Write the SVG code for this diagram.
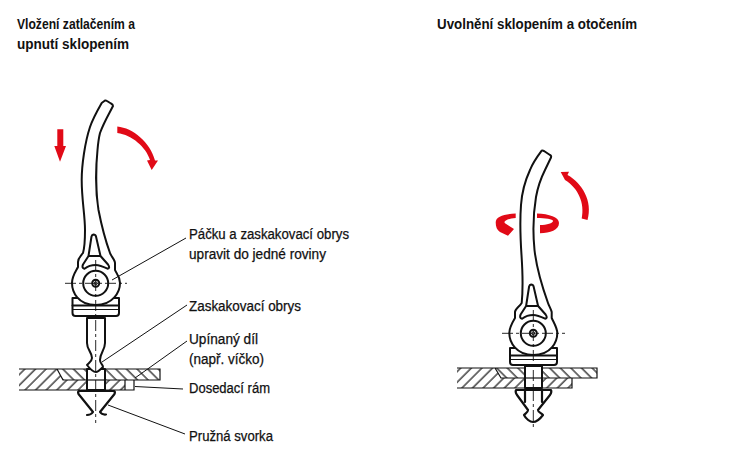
<svg xmlns="http://www.w3.org/2000/svg" width="750" height="459" viewBox="0 0 750 459">
<defs>
<pattern id="hf" width="7.500" height="7.500" patternUnits="userSpaceOnUse" patternTransform="rotate(45)"><line x1="1" y1="0" x2="1" y2="7.500" stroke="#000" stroke-width="1.100"/></pattern>
<pattern id="hb" width="7.500" height="7.500" patternUnits="userSpaceOnUse" patternTransform="rotate(-45)"><line x1="1" y1="0" x2="1" y2="7.500" stroke="#000" stroke-width="1.100"/></pattern>
<path id="grip" d="M93.500,234.500Q95.500,234.500 96,236.500L100.500,256L108,264.500Q110.500,268 107.500,268.700C102,266 99,265 95.700,265C92,265 88,266 84.500,268.700Q81.500,268 83,264.500L88.500,256L91.500,236.500Q92,234.700 93.500,234.500ZM88.500,256H100.500"/>
</defs>
<style>
text{font-family:"Liberation Sans",Arial,sans-serif;font-size:14px;fill:#111;font-weight:400;stroke:#111;stroke-width:.25}
.t{font-weight:700;stroke:none}
.o{fill:none;stroke:#111;stroke-width:2;stroke-linejoin:round;stroke-linecap:round}
.w{fill:#fff;stroke:#111;stroke-width:2;stroke-linejoin:round}
.c{fill:none;stroke:#111;stroke-width:.9;stroke-dasharray:11 3 3 3}
.l{fill:none;stroke:#111;stroke-width:1}
.p{fill:none;stroke:#111;stroke-width:1.200}
.r{fill:#e10a17;stroke:none}
</style>

<g id="titles">
<text class="t" x="17" y="29" textLength="118" lengthAdjust="spacingAndGlyphs">Vložení zatlačením a</text>
<text class="t" x="17" y="49" textLength="112" lengthAdjust="spacingAndGlyphs">upnutí sklopením</text>
<text class="t" x="437" y="29" textLength="200" lengthAdjust="spacingAndGlyphs">Uvolnění sklopením a otočením</text>
</g>

<g id="left-plate">
<path fill="url(#hf)" d="M19,369H57L63,380H87V390H19Z"/>
<path fill="url(#hb)" d="M57,369H87V380H63Z"/>
<path fill="url(#hb)" d="M105,369H160V380H105Z"/>
<path fill="url(#hf)" d="M105,380H125V390H105Z"/>
<path class="p" d="M19,369H160V380H63L57,369M19,390H134V380M125,380V390M87,369V390M105,369V390"/>
</g>

<g id="left-clip">
<path class="w" d="M87,369H105V390H87Z"/>
<path class="p" d="M87,380H105"/>
<path class="w" d="M87,318H105V343C105,350 100,353 100,360C100,364 103,364 103,367C100,370 98,372 96,372C93,372 90,369 87,365C90,362 92,361 92,358C92,352 87,350 87,343Z"/>
<path class="o" d="M89,318V315M103,318V315"/>
<path class="o" d="M79,391H114Q115.500,392 114.500,394L100,412Q102,415 106,414.500M79,391Q77.500,392 78.500,394L93,412Q91,415 87,415" style="stroke-width:2.200"/>
</g>

<g id="left-lever">
<path class="w" d="M72.500,298H119V313Q119,316 116,316H75.500Q72.500,316 72.500,313Z"/>
<path class="o" d="M72.500,305.500H119"/>
<path class="p" d="M72.500,309.500H119"/>
<path class="w" d="M105,100.500L101.700,103C96,113 91,124 90,127C85,142 81.700,165 81.700,180C81.700,200 85,215 85,230C85,240 84.500,248 83,253C80,257 78,258 78,262V267C76,271 72,276 72,283C72,292 78,305 95.700,305C113,305 120,292 120,283C120,276 116,273 115,270V263C115,260 111,256 110,253C106,242 102,228 98.500,210C96,195 95.500,170 97.500,150C98,144 99,137 100,133C104,122 109,114 113,106C113,105 112,104 111,103.500L107,101Q106,100.300 105,100.500Z"/>
<use href="#grip" class="o"/>
<circle class="w" cx="95.700" cy="283.300" r="12.500"/>
<circle class="o" cx="95.700" cy="283.300" r="3.500"/>
<circle class="o" cx="95.700" cy="283.300" r="1.500" style="stroke-width:1"/>
<path class="c" d="M65,283.300H127M95.700,260V423"/>
</g>

<g id="right-plate">
<path fill="url(#hf)" d="M457,368H495L501,378H525V388H457Z"/>
<path fill="url(#hb)" d="M495,368H525V378H501Z"/>
<path fill="url(#hb)" d="M542,368H597V378H542Z"/>
<path fill="url(#hf)" d="M542,378H572V388H542Z"/>
<path class="p" d="M457,368H597V378H501L495,368M457,388H572V378"/>
</g>

<g id="right-clip">
<path class="w" d="M525,366H542V388H525Z"/>
<path class="p" d="M525,378H542"/>
<path class="o" d="M516,390H551Q552,392 550,395L538,410C538,412 541,413 543,415C540,419 536,422 533,422C530,422 526,419 524,415C526,413 528,412 528,410L517,395Q515,392 516,390ZM525,390V402M542,390V402" style="stroke-width:2.200"/>
</g>

<g id="right-lever">
<path class="w" d="M510,348H557V362Q557,365 554,365H513Q510,365 510,362Z"/>
<path class="o" d="M510,355.500H557"/>
<path class="p" d="M510,359.500H557"/>
<path class="w" d="M541.700,150.700C537,157 532,165 530,170C524,183 521.700,195 521,205C519.500,225 520.500,240 521.500,255C522.500,270 523,290 521.700,303C519,307 515,309 515,312V318C512,323 509.300,328 509.300,333C509.300,342 516,355 533.300,355C551,355 557.300,342 557.300,333C557.300,328 554,323 551.700,318V312C551,309 549,306 548,303C543,289 537,272 534.500,250C533,235 533,215 536,197C538,186 541,178 545,170L551,157.500C551.500,156 551,155.500 550,155L544,151Q542.500,150.200 541.700,150.700Z"/>
<use href="#grip" class="o" transform="translate(437.600,50)"/>
<circle class="w" cx="533.300" cy="333.300" r="12.500"/>
<circle class="o" cx="533.300" cy="333.300" r="3.500"/>
<circle class="o" cx="533.300" cy="333.300" r="1.500" style="stroke-width:1"/>
<path class="c" d="M502,333.300H565M533.300,310V427"/>
</g>

<g id="connectors">
<path class="l" d="M186,238L112,280M187,305L102,362M187,341L135,378M183,389L135,386.500M185,434L108,405"/>
</g>

<g id="motion-arrows">
<path class="r" d="M57.300,129.300H63.300V146H66L60,161.700L54.300,146H57.300Z"/>
<path class="r" d="M117.300,126.500C133,128 150,142 155,160.500L158,160.500L151.700,170L147,160.500L150,160C146,147 132,135 117.300,133Z"/>
<path class="r" d="M581.700,218.500C585,203 578,188 565,180L560.700,172L569,171.700L567.500,175C582,183 593,201 587.500,220Z"/>
<path class="r" d="M515.700,213.500C505,214 495.700,216 495.700,222.500C495.700,227 497,230 500,232L508,235.700L514,229L505,223.300C503,221.500 507,218.500 515.700,218Z"/>
<path class="r" d="M537,213.500C549,214 559,217 559,223C559,230 550,233 540,233.300V225C547,225 553,223 553,221C553,219 545,218 537,218Z"/>
</g>

<g id="labels">
<text x="189" y="239" textLength="160" lengthAdjust="spacingAndGlyphs">Páčku a zaskakovací obrys</text>
<text x="189" y="259" textLength="137" lengthAdjust="spacingAndGlyphs">upravit do jedné roviny</text>
<text x="189" y="311" textLength="112" lengthAdjust="spacingAndGlyphs">Zaskakovací obrys</text>
<text x="189" y="344" textLength="69" lengthAdjust="spacingAndGlyphs">Upínaný díl</text>
<text x="189" y="364" textLength="75" lengthAdjust="spacingAndGlyphs">(např. víčko)</text>
<text x="189" y="393" textLength="81" lengthAdjust="spacingAndGlyphs">Dosedací rám</text>
<text x="189" y="441" textLength="84" lengthAdjust="spacingAndGlyphs">Pružná svorka</text>
</g>
</svg>
